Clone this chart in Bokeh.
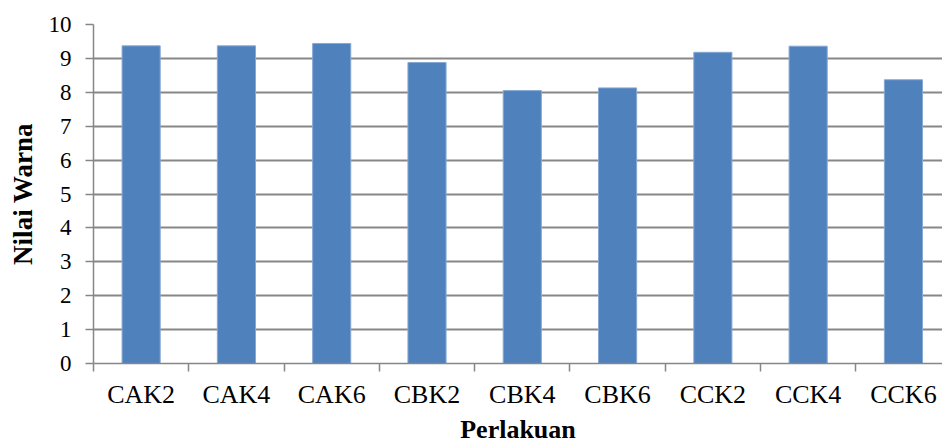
from bokeh.plotting import figure
from bokeh.models import Range1d, FixedTicker, ColumnDataSource
from bokeh.embed import file_html
from bokeh.resources import INLINE

categories = ["CAK2", "CAK4", "CAK6", "CBK2", "CBK4", "CBK6", "CCK2", "CCK4", "CCK6"]
values = [9.37, 9.37, 9.44, 8.88, 8.05, 8.13, 9.18, 9.36, 8.37]
y_ticks = [0, 1, 2, 3, 4, 5, 6, 7, 8, 9, 10]
x_title = "Perlakuan"
y_title = "Nilai Warna"

centers = [i + 0.5 for i in range(len(categories))]
bounds = list(range(len(categories) + 1))

src = ColumnDataSource(dict(x=centers, top=values, cat=categories))

p = figure(width=942, height=446, output_backend="svg", toolbar_location=None,
           x_range=Range1d(0, 8.91), y_range=Range1d(0, 10),
           min_border_left=93, min_border_right=0, min_border_top=24, min_border_bottom=83)
p.outline_line_color = None
p.background_fill_color = "white"
p.border_fill_color = "white"

p.vbar(x="x", top="top", width=0.4, bottom=0, source=src,
       fill_color="#4F81BD", line_color="#86A8D4", line_width=1)

grid_col = "#878787"
font = "Liberation Serif"

# x axis
xa = p.xaxis[0]
xa.ticker = FixedTicker(ticks=centers, minor_ticks=bounds)
xa.major_label_overrides = {c: lab for c, lab in zip(centers, categories)}
xa.major_tick_line_color = None
xa.major_tick_out = 0
xa.major_tick_in = 0
xa.minor_tick_line_color = grid_col
xa.minor_tick_line_width = 1.5
xa.minor_tick_out = 8
xa.minor_tick_in = 0
xa.axis_line_color = grid_col
xa.axis_line_width = 1.5
xa.major_label_text_font = font
xa.major_label_text_font_size = "26px"
xa.major_label_text_color = "black"
xa.major_label_text_line_height = 0.8
xa.major_label_standoff = 8
xa.axis_label = x_title
xa.axis_label_text_font = font
xa.axis_label_text_font_style = "bold"
xa.axis_label_text_font_size = "26px"
xa.axis_label_text_color = "black"
xa.axis_label_text_line_height = 0.8
xa.axis_label_standoff = 3

# y axis
ya = p.yaxis[0]
ya.ticker = FixedTicker(ticks=y_ticks, minor_ticks=[])
ya.major_tick_line_color = grid_col
ya.major_tick_line_width = 1.5
ya.major_tick_out = 8
ya.major_tick_in = 0
ya.minor_tick_line_color = None
ya.axis_line_color = grid_col
ya.axis_line_width = 1.5
ya.major_label_text_font = font
ya.major_label_text_font_size = "23px"
ya.major_label_text_color = "black"
ya.major_label_standoff = 14
ya.axis_label = y_title
ya.axis_label_text_font = font
ya.axis_label_text_font_style = "bold"
ya.axis_label_text_font_size = "27px"
ya.axis_label_text_color = "black"
ya.axis_label_standoff = 8

p.xgrid.grid_line_color = None
p.ygrid.ticker = FixedTicker(ticks=y_ticks)
p.ygrid.grid_line_color = grid_col
p.ygrid.grid_line_width = 2

open("out.html", "w").write(file_html(p, INLINE))
